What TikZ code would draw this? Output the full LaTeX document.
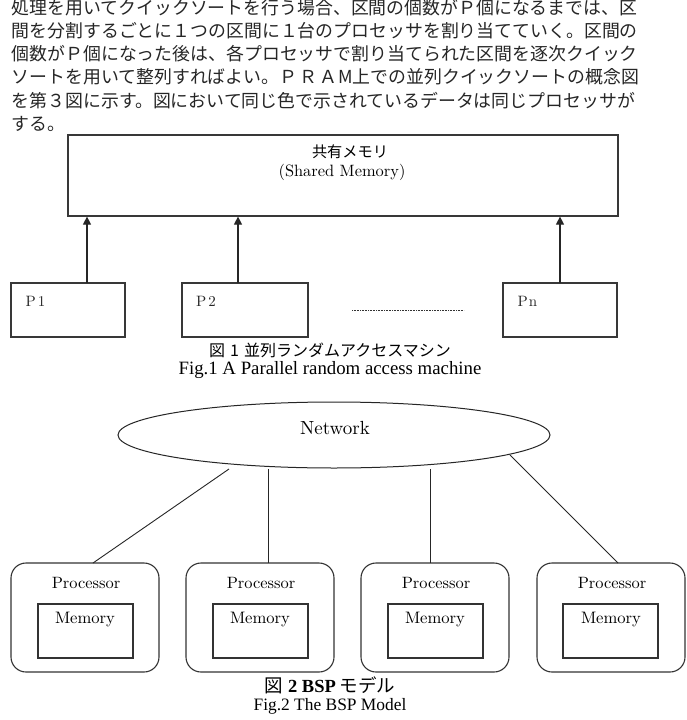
\documentclass[tikz,border=0pt]{standalone}
\usepackage{fontspec}
\newfontfamily\jp{Noto Sans CJK JP}
\newfontfamily\tms{Liberation Serif}
\newfontfamily\lmten{lmroman10-regular}[Extension=.otf]
\usetikzlibrary{shapes.geometric,arrows.meta}
\begin{document}
\begin{tikzpicture}[x=1pt,y=-1pt,
  body/.style={anchor=base west, inner sep=0pt, font=\jp\fontsize{17.89}{20}\selectfont, text=black!85},
  box/.style={draw=black!78, line width=1.2pt, inner sep=0pt},
  pbox/.style={draw=black!80, line width=1.1pt, rounded corners=15pt, minimum width=148pt, minimum height=109pt, inner sep=0pt},
  mbox/.style={draw=black!80, line width=1.1pt, minimum width=95pt, minimum height=54pt, inner sep=0pt},
  plabel/.style={anchor=base west, inner sep=0pt, font=\lmten\fontsize{15}{17}\selectfont, text=black!85},
  arr/.style={draw=black!85, line width=1.1pt, -{Triangle[width=8pt,length=8pt]}},
  link/.style={draw=black!85, line width=0.9pt},
  lm/.style={inner sep=0pt, text=black},
]
\fill[white] (0,0) rectangle (686,720);
\useasboundingbox (0,0) rectangle (686,720);

% body text
\node[body] (t1) at (11.5,14.3) {処理を用いてクイックソートを行う場合、区間の個数がＰ個になるまでは、区};
\node[body] (t2) at (11.5,37.5) {間を分割するごとに１つの区間に１台のプロセッサを割り当てていく。区間の};
\node[body] (t3) at (11.5,60.7) {個数がＰ個になった後は、各プロセッサで割り当てられた区間を逐次クイック};
\node[body] (t4) at (11.5,83.9) {\hbox to 626pt{ソートを用いて整列すればよい。\hfil Ｐ\hspace{2pt}Ｒ\hspace{2pt}Ａ\hspace{1pt}M上での並列クイックソートの概念図}};
\node[body] (t5) at (11.5,107.1) {を第３図に示す。図において同じ色で示されているデータは同じプロセッサが};
\node[body] (t6) at (11.5,130.3) {する。};

% Fig 1
\node[box, minimum width=550pt, minimum height=81pt] (shm) at (343,175.5) {};
\node[lm, font=\jp\fontsize{15.2}{16}\selectfont] (shmjp) at (350,152) {共有メモリ};
\node[lm, font=\lmten\fontsize{16.4}{18}\selectfont] (shmen) at (342,172) {(Shared Memory)};

\node[box, minimum width=114pt, minimum height=54pt] (p1) at (68,310) {};
\node[box, minimum width=126pt, minimum height=54pt] (p2) at (245,310) {};
\node[box, minimum width=114pt, minimum height=54pt] (pn) at (560,310) {};
\node[plabel] (p1l) at (25.5,306) {P\hspace{2pt}1};
\node[plabel] (p2l) at (196,306) {P\hspace{2pt}2};
\node[plabel] (pnl) at (517.5,306) {P\hspace{1pt}n};

\coordinate (a1) at (87,283);
\coordinate (a2) at (238,283);
\coordinate (a3) at (560,283);
\draw[arr] (a1) -- (a1 |- shm.south);
\draw[arr] (a2) -- (a2 |- shm.south);
\draw[arr] (a3) -- (a3 |- shm.south);

\coordinate (d1) at (352,310);
\coordinate (d2) at (464,310);
\draw[black!80, line width=0.8pt, dash pattern=on 0.8pt off 0.8pt] (d1) -- (d2);

\node[lm, font=\jp\fontsize{16}{18}\selectfont] (cap1) at (330,350) {図\hspace{5pt}1\hspace{5pt}並列ランダムアクセスマシン};
\node[lm, font=\tms\fontsize{18.8}{20}\selectfont] (fig1) at (330,370) {Fig.1 A Parallel random access machine};

% Fig 2
\node[draw=black!85, line width=1pt, ellipse, minimum width=432pt, minimum height=66pt, inner sep=0pt] (net) at (334,435) {};
\node[lm, font=\lmten\fontsize{19}{22}\selectfont] (netl) at (335,428) {Network};

\node[pbox] (b1) at (85,617.5) {};
\node[pbox] (b2) at (260,617.5) {};
\node[pbox] (b3) at (435,617.5) {};
\node[pbox] (b4) at (611,617.5) {};
\node[mbox] (m1) at (85.5,631) {};
\node[mbox] (m2) at (260.5,631) {};
\node[mbox] (m3) at (435.5,631) {};
\node[mbox] (m4) at (610.5,631) {};
\foreach \i/\x in {1/85,2/260,3/435,4/611}{
  \node[lm, font=\lmten\fontsize{16.4}{18}\selectfont] (pl\i) at (\x+1,583) {Processor};
  \node[lm, font=\lmten\fontsize{16.6}{18}\selectfont] (ml\i) at (\x,620) {Memory};
}

\coordinate (n1) at (229,469);
\coordinate (n2) at (268,469);
\coordinate (n3) at (430,469);
\coordinate (n4) at (510,455);
\coordinate (q1) at (93,563);
\coordinate (q2) at (268,563);
\coordinate (q3) at (430,563);
\coordinate (q4) at (618,563);
\draw[link] (n1) -- (q1);
\draw[link] (n2) -- (q2);
\draw[link] (n3) -- (q3);
\draw[link] (n4) -- (q4);

\node[lm, font=\fontsize{18.5}{20}\selectfont] (cap2) at (330,685) {{\jp 図}\hspace{5pt}{\tms\bfseries 2 BSP}\hspace{4pt}{\jp モデル}};
\node[lm, font=\tms\fontsize{17.4}{19}\selectfont] (fig2) at (330,706) {Fig.2 The BSP Model};
\end{tikzpicture}
\end{document}
